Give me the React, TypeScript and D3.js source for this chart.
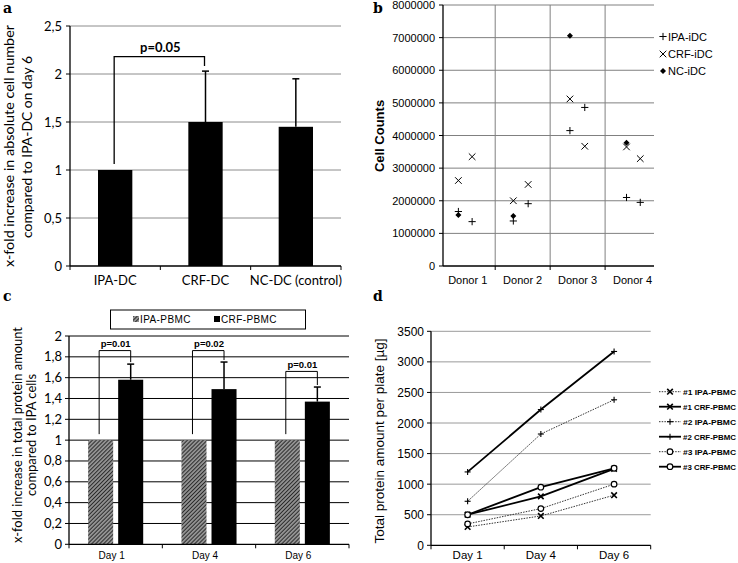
import * as d3 from 'd3';

// panel a
const aCategories = ['IPA-DC', 'CRF-DC', 'NC-DC (control)'];
const aValues = [1, 1.5, 1.45];
const aErrors = [0, 0.53, 0.5];
const aTicks = [0, 0.5, 1, 1.5, 2, 2.5];

// panel b
const bDonors = ['Donor 1', 'Donor 2', 'Donor 3', 'Donor 4'];
const bDonorPos = [0.5, 1.5, 2.5, 3.5];
const bPairX = [0.33, 0.58, 1.33, 1.6, 2.36, 2.63, 3.39, 3.64];
const bIpa = [1670000, 1360000, 1380000, 1910000, 4150000, 4860000, 2100000, 1950000];
const bCrf = [2620000, 3350000, 2000000, 2500000, 5120000, 3670000, 3650000, 3290000];
const bNcX = [0.33, 1.33, 2.36, 3.39];
const bNc = [1560000, 1530000, 7060000, 3780000];
const bTicks = [0, 1000000, 2000000, 3000000, 4000000, 5000000, 6000000, 7000000, 8000000];
const bGrid = [1, 2, 3];

// panel c
const cDays = ['Day 1', 'Day 4', 'Day 6'];
const cIpa = [1, 1, 1];
const cCrf = [1.58, 1.49, 1.37];
const cCrfErr = [0.15, 0.26, 0.14];
const cBracket = [1.86, 1.86, 1.66];
const cPvals = ['p=0.01', 'p=0.02', 'p=0.01'];
const cTicks = [0, 0.2, 0.4, 0.6, 0.8, 1, 1.2, 1.4, 1.6, 1.8, 2];

// panel d
const dDays = ['Day 1', 'Day 4', 'Day 6'];
const dSeries = [
  { name: '#1 IPA-PBMC', values: [300, 480, 820], dotted: true, marker: 'x' },
  { name: '#1 CRF-PBMC', values: [500, 800, 1250], dotted: false, marker: 'x' },
  { name: '#2 IPA-PBMC', values: [720, 1820, 2380], dotted: true, marker: '+' },
  { name: '#2 CRF-PBMC', values: [1200, 2220, 3170], dotted: false, marker: '+' },
  { name: '#3 IPA-PBMC', values: [350, 600, 1000], dotted: true, marker: 'o' },
  { name: '#3 CRF-PBMC', values: [500, 950, 1260], dotted: false, marker: 'o' },
];
const dTicks = [0, 500, 1000, 1500, 2000, 2500, 3000, 3500];

const calibri = 'Lato, "Open Sans", sans-serif';
const arial = '"Liberation Sans", Arial, sans-serif';
const fmtComma = (v: number) => String(+v.toFixed(1)).replace('.', ',');

function Plus({ x, y, r, sw = 1 }: any) {
  return (
    <g stroke="#000" strokeWidth={sw}>
      <line x1={x - r} x2={x + r} y1={y} y2={y} />
      <line x1={x} x2={x} y1={y - r} y2={y + r} />
    </g>
  );
}
function Cross({ x, y, r, sw = 1 }: any) {
  return (
    <g stroke="#000" strokeWidth={sw}>
      <line x1={x - r} x2={x + r} y1={y - r} y2={y + r} />
      <line x1={x - r} x2={x + r} y1={y + r} y2={y - r} />
    </g>
  );
}
function Diamond({ x, y, r }: any) {
  return <path d={`M${x},${y - r}L${x + r},${y}L${x},${y + r}L${x - r},${y}Z`} fill="#000" />;
}

function PanelA() {
  const y = d3.scaleLinear().domain([0, 2.5]).range([266, 26]);
  const x = d3.scaleBand().domain(aCategories).range([70, 341]).paddingInner(0.62).paddingOuter(0.31);
  const step = x.step();
  const cx = (c: string) => x(c)! + x.bandwidth() / 2;
  const bx1 = cx(aCategories[0]);
  const bx2 = cx(aCategories[1]);
  const by = y(2.18);
  return (
    <g>
      <text x={3} y={13} fontFamily="'DejaVu Serif', serif" fontWeight="bold" fontSize={14}>a</text>
      {aTicks.map((t) => (
        <g key={t}>
          {t > 0 && <line x1={70} x2={341} y1={y(t)} y2={y(t)} stroke="#8c8c8c" />}
          <line x1={66} x2={70} y1={y(t)} y2={y(t)} stroke="#000" />
          <text x={62} y={y(t) + 4.5} textAnchor="end" fontFamily={calibri} fontSize={13}>{fmtComma(t)}</text>
        </g>
      ))}
      {aCategories.map((c, i) => (
        <g key={c}>
          <rect x={x(c)} y={y(aValues[i])} width={x.bandwidth()} height={y(0) - y(aValues[i])} fill="#000" />
          {aErrors[i] > 0 && (
            <g stroke="#000" strokeWidth={1.5}>
              <line x1={cx(c)} x2={cx(c)} y1={y(aValues[i])} y2={y(aValues[i] + aErrors[i])} />
              <line x1={cx(c) - 3.5} x2={cx(c) + 3.5} y1={y(aValues[i] + aErrors[i])} y2={y(aValues[i] + aErrors[i])} />
            </g>
          )}
          <text x={cx(c)} y={285} textAnchor="middle" fontFamily={calibri} fontSize={13}>{c}</text>
        </g>
      ))}
      <line x1={70} x2={70} y1={26} y2={266} stroke="#000" strokeWidth={1.3} />
      <line x1={70} x2={341} y1={266} y2={266} stroke="#000" strokeWidth={1.3} />
      {[0, 1, 2, 3].map((i) => (
        <line key={i} x1={70 + i * step} x2={70 + i * step} y1={266} y2={270} stroke="#000" />
      ))}
      <path
        d={`M${bx1 - 1},${y(1) - 6}V${by}H${bx2 - 1}V${y(aValues[1] + aErrors[1]) - 5}`}
        fill="none" stroke="#000" strokeWidth={1.3}
      />
      <text x={(bx1 + bx2) / 2} y={by - 5} textAnchor="middle" fontFamily={calibri} fontWeight="bold" fontSize={13}>p=0.05</text>
      <g fontFamily={calibri} fontSize={14} textAnchor="middle">
        <text transform="translate(14,146) rotate(-90)" textLength={242} lengthAdjust="spacingAndGlyphs">x-fold increase in absolute cell number</text>
        <text transform="translate(32,147) rotate(-90)" textLength={182} lengthAdjust="spacingAndGlyphs">compared to IPA-DC on day 6</text>
      </g>
    </g>
  );
}

function PanelB() {
  const y = d3.scaleLinear().domain([0, 8000000]).range([266, 5]);
  const x = d3.scaleLinear().domain([0.05, 3.89]).range([443, 654]);
  return (
    <g>
      <text x={373} y={13} fontFamily="'DejaVu Serif', serif" fontWeight="bold" fontSize={14}>b</text>
      {bTicks.map((t) => (
        <g key={t}>
          {t > 0 && <line x1={443} x2={654} y1={y(t)} y2={y(t)} stroke="#808080" />}
          <line x1={439} x2={443} y1={y(t)} y2={y(t)} stroke="#000" />
          <text x={435} y={y(t) + 4} textAnchor="end" fontFamily={arial} fontSize={11}>{t}</text>
        </g>
      ))}
      {bGrid.map((g) => (
        <g key={g}>
          <line x1={x(g)} x2={x(g)} y1={y(8000000)} y2={266} stroke="#808080" />
          <line x1={x(g)} x2={x(g)} y1={266} y2={270} stroke="#000" />
        </g>
      ))}
      <line x1={443} x2={443} y1={5} y2={266} stroke="#000" strokeWidth={1.3} />
      <line x1={443} x2={654} y1={266} y2={266} stroke="#000" strokeWidth={1.3} />
      {bDonors.map((d, i) => (
        <text key={d} x={x(bDonorPos[i])} y={284} textAnchor="middle" fontFamily={arial} fontSize={11}>{d}</text>
      ))}
      {bNcX.map((v, i) => <Diamond key={'n' + i} x={x(v)} y={y(bNc[i])} r={3} />)}
      {bPairX.map((v, i) => <Plus key={'p' + i} x={x(v)} y={y(bIpa[i])} r={3.6} />)}
      {bPairX.map((v, i) => <Cross key={'c' + i} x={x(v)} y={y(bCrf[i])} r={3.3} />)}
      <g fontFamily={arial} fontSize={11}>
        <Plus x={663} y={36.5} r={3.6} />
        <text x={668} y={40.5}>IPA-iDC</text>
        <Cross x={663} y={54} r={3.3} />
        <text x={668} y={58}>CRF-iDC</text>
        <Diamond x={663} y={71} r={3} />
        <text x={668} y={75}>NC-iDC</text>
      </g>
      <text transform="translate(384,136) rotate(-90)" textAnchor="middle" fontFamily={arial} fontWeight="bold" fontSize={13}>Cell Counts</text>
    </g>
  );
}

function PanelC() {
  const y = d3.scaleLinear().domain([0, 2]).range([544.3, 336]);
  const x = d3.scaleBand().domain(cDays).range([69, 349]).paddingInner(0.41).paddingOuter(0.205);
  const sub = d3.scaleBand().domain(['IPA', 'CRF']).range([0, x.bandwidth()]).paddingInner(0.167);
  const step = x.step();
  return (
    <g>
      <defs>
        <pattern id="hatch" patternUnits="userSpaceOnUse" width={2.8} height={2.8} patternTransform="rotate(45)">
          <rect width={2.8} height={2.8} fill="#fff" />
          <line x1={1.4} x2={1.4} y1={0} y2={2.8} stroke="#2a2a2a" strokeWidth={1.9} />
        </pattern>
      </defs>
      <text x={3} y={301} fontFamily="'DejaVu Serif', serif" fontWeight="bold" fontSize={14}>c</text>
      {cTicks.map((t) => (
        <g key={t}>
          {t > 0 && <line x1={69} x2={349} y1={y(t)} y2={y(t)} stroke="#000" />}
          <line x1={65} x2={69} y1={y(t)} y2={y(t)} stroke="#000" />
          <text x={62} y={y(t) + 4.5} textAnchor="end" fontFamily={calibri} fontSize={13}>{fmtComma(t)}</text>
        </g>
      ))}
      {cDays.map((d, i) => {
        const x0 = x(d)!;
        const ipaX = x0 + sub('IPA')! + sub.bandwidth() / 2;
        const crfX = x0 + sub('CRF')! + sub.bandwidth() / 2;
        const top = cCrf[i] + cCrfErr[i];
        const by = y(cBracket[i]);
        return (
          <g key={d}>
            <rect x={x0 + sub('IPA')!} y={y(cIpa[i])} width={sub.bandwidth()} height={y(0) - y(cIpa[i])} fill="url(#hatch)" />
            <rect x={x0 + sub('CRF')!} y={y(cCrf[i])} width={sub.bandwidth()} height={y(0) - y(cCrf[i])} fill="#000" />
            <g stroke="#000" strokeWidth={1.5}>
              <line x1={crfX} x2={crfX} y1={y(cCrf[i])} y2={y(top)} />
              <line x1={crfX - 3.5} x2={crfX + 3.5} y1={y(top)} y2={y(top)} />
            </g>
            <path d={`M${ipaX - 1.5},${y(cIpa[i]) - 6}V${by}H${crfX}V${y(top) - 2}`} fill="none" stroke="#000" strokeWidth={1} />
            <text x={(ipaX + crfX) / 2} y={by - 3.5} textAnchor="middle" fontFamily={arial} fontWeight="bold" fontSize={9.5}>{cPvals[i]}</text>
            <text x={x0 + x.bandwidth() / 2 - 4} y={559} textAnchor="middle" fontFamily={arial} fontSize={10}>{d}</text>
          </g>
        );
      })}
      <line x1={69} x2={69} y1={336} y2={544.3} stroke="#000" strokeWidth={1.3} />
      <line x1={69} x2={349} y1={544.3} y2={544.3} stroke="#000" strokeWidth={1.3} />
      {[0, 1, 2, 3].map((i) => (
        <line key={i} x1={69 + i * step} x2={69 + i * step} y1={544.3} y2={548.3} stroke="#000" />
      ))}
      <rect x={110.5} y={310} width={195} height={19} fill="#fff" stroke="#000" strokeWidth={1} />
      <g fontFamily={arial} fontSize={10} letterSpacing={0.4}>
        <rect x={133} y={316} width={6} height={6} fill="url(#hatch)" />
        <text x={140} y={323}>IPA-PBMC</text>
        <rect x={214} y={316} width={6} height={6} fill="#000" />
        <text x={221} y={323}>CRF-PBMC</text>
      </g>
      <g fontFamily={calibri} fontSize={13.5} textAnchor="middle">
        <text transform="translate(22,435) rotate(-90)" textLength={216} lengthAdjust="spacingAndGlyphs">x-fold increase in total protein amount</text>
        <text transform="translate(36,435) rotate(-90)" textLength={122} lengthAdjust="spacingAndGlyphs">compared to IPA cells</text>
      </g>
    </g>
  );
}

function DMarker({ kind, x, y }: any) {
  if (kind === 'x') return <Cross x={x} y={y} r={2.8} sw={1.6} />;
  if (kind === '+') return <Plus x={x} y={y} r={3} sw={1.1} />;
  return <circle cx={x} cy={y} r={2.8} fill="#fff" stroke="#000" strokeWidth={1.2} />;
}

function PanelD() {
  const y = d3.scaleLinear().domain([0, 3500]).range([545.3, 331.3]);
  const x = d3.scaleBand().domain(dDays).range([431, 650.7]);
  const cx = (d: string) => x(d)! + x.bandwidth() / 2;
  const line = d3.line<number>().x((_, i) => cx(dDays[i])).y((v) => y(v));
  return (
    <g>
      <text x={373} y={301} fontFamily="'DejaVu Serif', serif" fontWeight="bold" fontSize={14}>d</text>
      {dTicks.map((t) => (
        <g key={t}>
          {t > 0 && <line x1={431} x2={650.7} y1={y(t)} y2={y(t)} stroke="#9a9a9a" />}
          <line x1={427} x2={431} y1={y(t)} y2={y(t)} stroke="#000" />
          <text x={424} y={y(t) + 4.5} textAnchor="end" fontFamily={arial} fontSize={12}>{t}</text>
        </g>
      ))}
      <line x1={431} x2={431} y1={331.3} y2={545.3} stroke="#000" strokeWidth={1.3} />
      <line x1={431} x2={650.7} y1={545.3} y2={545.3} stroke="#000" strokeWidth={1.3} />
      {[0, 1, 2, 3].map((i) => (
        <line key={i} x1={431 + i * x.step()} x2={431 + i * x.step()} y1={545.3} y2={549.3} stroke="#000" />
      ))}
      {dDays.map((d) => (
        <text key={d} x={cx(d)} y={559} textAnchor="middle" fontFamily={arial} fontSize={11.5}>{d}</text>
      ))}
      {dSeries.map((s) => (
        <g key={s.name}>
          <path d={line(s.values)!} fill="none" stroke={s.dotted ? '#333' : '#000'}
            strokeWidth={s.dotted ? 1 : 1.8} strokeDasharray={s.dotted ? '1.5 1.2' : undefined} />
          {s.values.map((v, i) => <DMarker key={i} kind={s.marker} x={cx(dDays[i])} y={y(v)} />)}
        </g>
      ))}
      {dSeries.map((s, i) => {
        const ly = 391.7 + i * 15;
        return (
          <g key={'l' + s.name}>
            <line x1={659} x2={681} y1={ly} y2={ly} stroke={s.dotted ? '#333' : '#000'}
              strokeWidth={s.dotted ? 1 : 1.8} strokeDasharray={s.dotted ? '1.5 1.2' : undefined} />
            <DMarker kind={s.marker} x={670} y={ly} />
            <text x={683} y={ly + 3} fontFamily={arial} fontWeight="bold" fontSize={8} textLength={53} lengthAdjust="spacingAndGlyphs">{s.name}</text>
          </g>
        );
      })}
      <text transform="translate(384,441) rotate(-90)" textAnchor="middle" fontFamily={arial} fontSize={13.5}>Total protein amount per plate [µg]</text>
    </g>
  );
}

export default function App() {
  return (
    <svg width={738} height={563} style={{ position: 'absolute', left: 0, top: 0, background: '#fff' }}>
      <rect width={738} height={563} fill="#fff" />
      <PanelA />
      <PanelB />
      <PanelC />
      <PanelD />
    </svg>
  );
}
